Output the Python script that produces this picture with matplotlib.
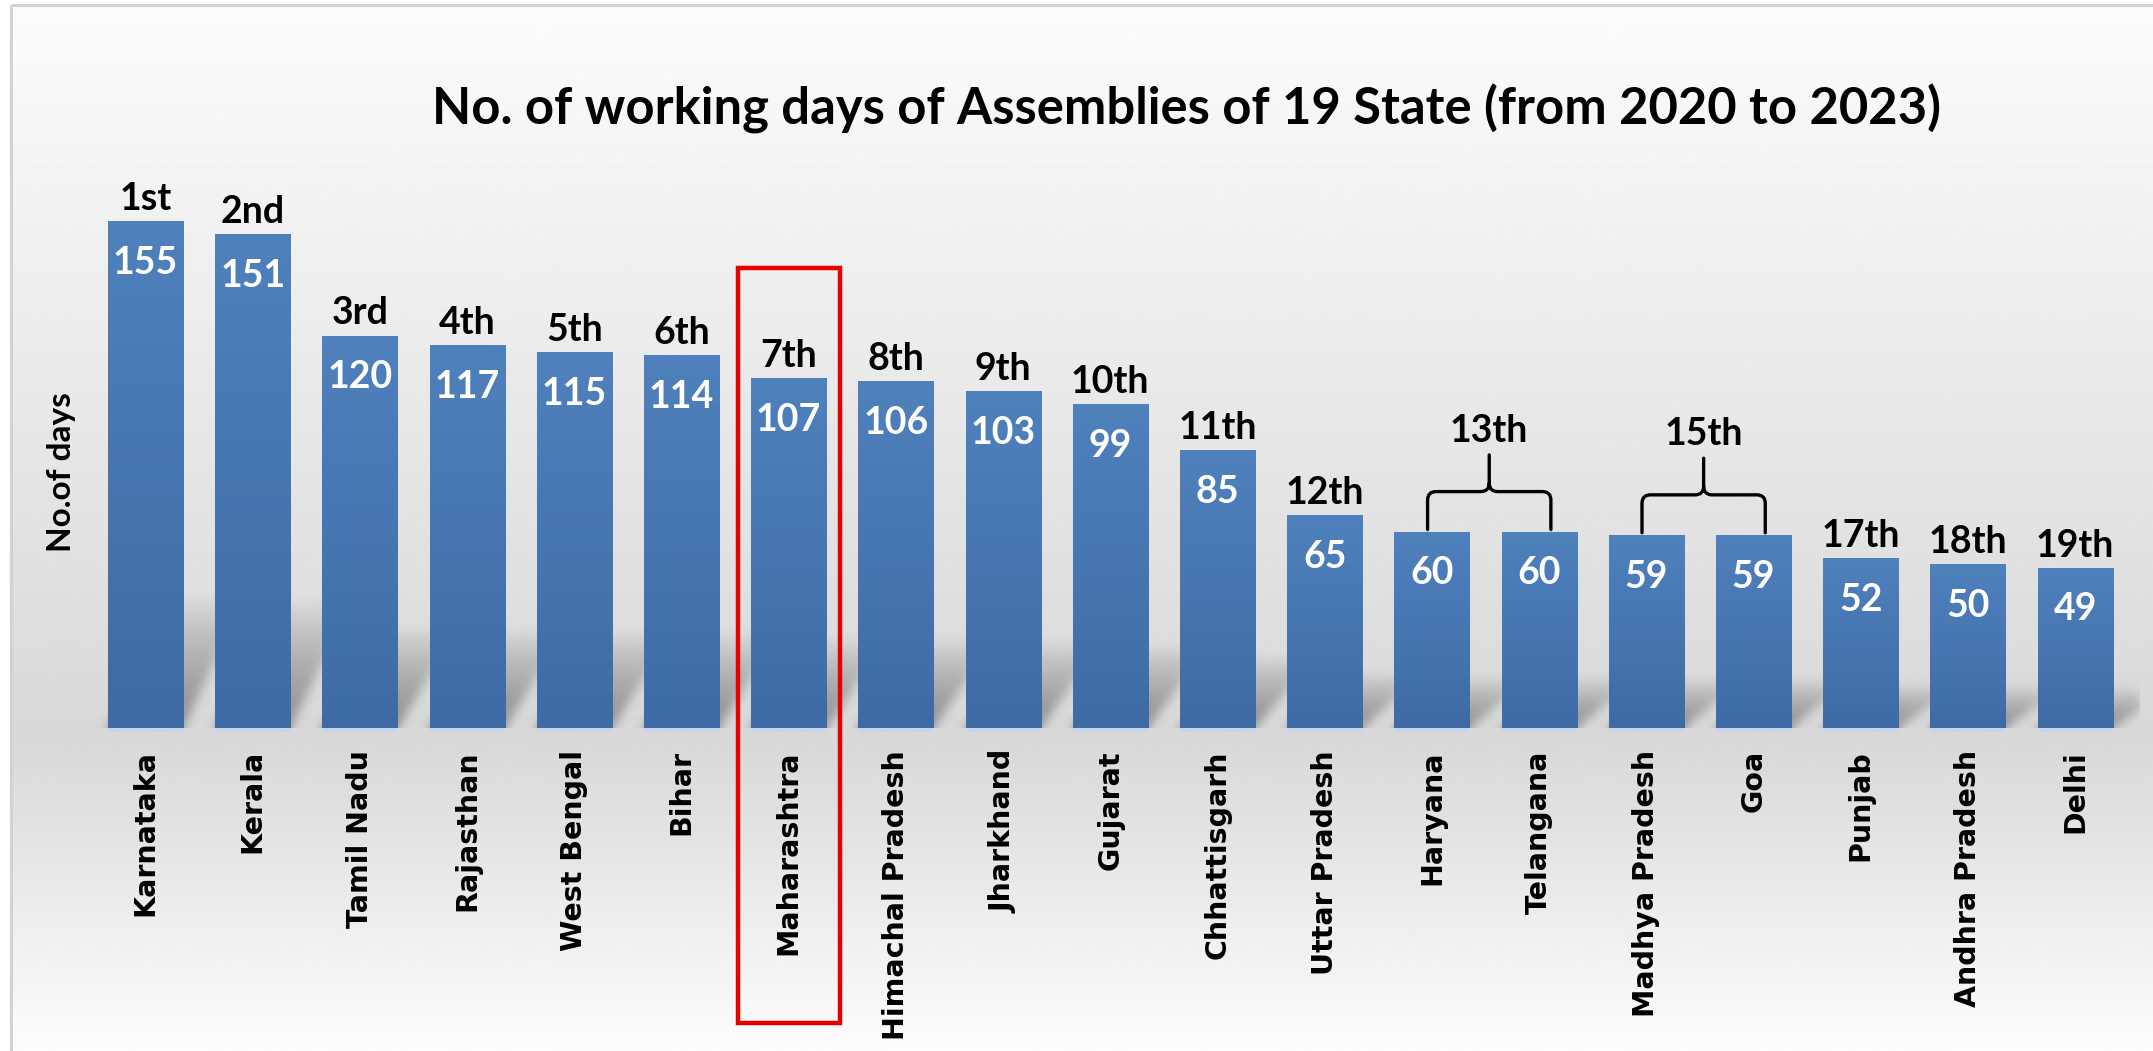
import numpy as np
import matplotlib
matplotlib.use("Agg")
import matplotlib.pyplot as plt
from matplotlib.patches import Rectangle, PathPatch
from matplotlib.path import Path
from matplotlib.colors import LinearSegmentedColormap

# ---------------- data ----------------
states = ["Karnataka", "Kerala", "Tamil Nadu", "Rajasthan", "West Bengal", "Bihar",
          "Maharashtra", "Himachal Pradesh", "Jharkhand", "Gujarat", "Chhattisgarh",
          "Uttar Pradesh", "Haryana", "Telangana", "Madhya Pradesh", "Goa", "Punjab",
          "Andhra Pradesh", "Delhi"]
days = [155, 151, 120, 117, 115, 114, 107, 106, 103, 99, 85, 65, 60, 60, 59, 59, 52, 50, 49]
ranks = ["1st", "2nd", "3rd", "4th", "5th", "6th", "7th", "8th", "9th", "10th", "11th",
         "12th", "", "", "", "", "17th", "18th", "19th"]
tied_groups = [("13th", 12, 13), ("15th", 14, 15)]
highlight = "Maharashtra"
title = "No. of working days of Assemblies of 19 State (from 2020 to 2023)"
ylabel = "No.of days"

# ---------------- figure ----------------
W, H = 2153, 1051
fig = plt.figure(figsize=(W / 100, H / 100), dpi=100)
fig.patch.set_facecolor("white")

# background gradient + frame
bg = fig.add_axes([0, 0, 1, 1], zorder=-10)
bg.set_xlim(0, W)
bg.set_ylim(H, 0)
bg.axis("off")
ys = np.linspace(5, H, 500)
vals = np.interp(ys, [0, 740, H], [252, 216, 253]) / 255.0
grad = np.repeat(vals[:, None], 2, axis=1)
bg.imshow(grad, cmap="gray", vmin=0, vmax=1, extent=[11, W, H, 5], aspect="auto",
          interpolation="bilinear")
bg.add_patch(Rectangle((11, 5), W, H, fill=False, ec="#d2d2d2", lw=2.2))

# main axes
ax = fig.add_axes([0.03771, 0.30733, 0.95597, 0.56004])
ax.set_facecolor("none")
x = np.arange(len(states))
bw = 0.70
bars = ax.bar(x, days, width=bw, color="#4a7ebb", zorder=3)

# gradient fill inside bars
bar_cmap = LinearSegmentedColormap.from_list("bar", ["#3e6ba5", "#4f81bd"])
gv = np.linspace(0, 1, 256)[:, None]
for b in bars:
    im = ax.imshow(gv, cmap=bar_cmap, origin="lower", aspect="auto",
                   extent=[b.get_x(), b.get_x() + b.get_width(), 0, b.get_height()],
                   zorder=3.1, interpolation="bilinear")
    im.set_clip_path(b)

# light reflection under bars
ax.bar(x, [-1.3] * len(x), width=bw, color="#c9d6e8", zorder=3, clip_on=False)

# soft perspective shadows cast up and to the right behind each bar
sx = np.linspace(-0.6, 18.6, 1920)
sy = np.linspace(-10, 70, 320)
X, Y = np.meshgrid(sx, sy)
S = np.zeros_like(X)
for i, v in enumerate(days):
    hs = 0.26 * v
    t = np.clip(Y, 0, None) / hs
    shift = 0.58 * t
    left = i - bw / 2 + shift
    right = i + bw / 2 + shift
    inside = (t <= 1) & (X >= left) & (X <= right)
    strength = np.where(inside, np.clip(1 - t, 0, 1) ** 0.8, 0.0)
    S = np.maximum(S, strength)


def gk(sig):
    r = int(3 * sig)
    k = np.exp(-0.5 * (np.arange(-r, r + 1) / sig) ** 2)
    return k / k.sum()


kx, ky = gk(5), gk(6)
S = np.apply_along_axis(lambda r: np.convolve(r, kx, mode="same"), 1, S)
S = np.apply_along_axis(lambda c: np.convolve(c, ky, mode="same"), 0, S)
rgba = np.zeros(S.shape + (4,))
rgba[..., :3] = 0.42
rgba[..., 3] = np.clip(S * 0.7, 0, 1)
ax.imshow(rgba, origin="lower", extent=[-0.6, 18.6, -10, 70], aspect="auto",
          zorder=2, interpolation="bilinear")

ax.set_xlim(-0.6, 18.6)
ax.set_ylim(0, 180)

# value labels & rank labels
for i, (v, r) in enumerate(zip(days, ranks)):
    ax.annotate(str(v), (i, v), xytext=(0, -30), textcoords="offset points",
                ha="center", va="center", color="white", fontsize=27,
                fontweight="bold", family="Lato", zorder=6)
    if r:
        ax.annotate(r, (i, v), xytext=(0, 8), textcoords="offset points",
                    ha="center", va="baseline", color="black", fontsize=27,
                    fontweight="bold", family="Lato", zorder=6)

# curly brackets for tied ranks
for lab, i, j in tied_groups:
    v = max(days[i], days[j])
    x0, x1 = i - 0.04, j + 0.11
    xm = (x0 + x1) / 2
    yb, yh, yc = v + 0.7, v + 12.3, v + 23.5
    rx, ry = 0.08, 2.6
    verts = [(x0, yb), (x0, yh - ry), (x0, yh), (x0 + rx, yh), (xm - rx, yh),
             (xm, yh), (xm, yh + ry), (xm, yc),
             (x1, yb), (x1, yh - ry), (x1, yh), (x1 - rx, yh), (xm + rx, yh),
             (xm, yh), (xm, yh + ry)]
    codes = [Path.MOVETO, Path.LINETO, Path.CURVE3, Path.CURVE3, Path.LINETO,
             Path.CURVE3, Path.CURVE3, Path.LINETO,
             Path.MOVETO, Path.LINETO, Path.CURVE3, Path.CURVE3, Path.LINETO,
             Path.CURVE3, Path.CURVE3]
    ax.add_patch(PathPatch(Path(verts, codes), fill=False, ec="black", lw=2.4,
                           zorder=6, capstyle="round", joinstyle="round"))
    ax.text(xm, v + 27.5, lab, ha="center", va="baseline", fontsize=27,
            fontweight="bold", family="Lato", zorder=6)

# highlight box around Maharashtra
hi = states.index(highlight)
ax.add_patch(Rectangle((hi - 0.476, -90.2), 0.952, 140.7 + 90.2, fill=False,
                       ec="#e60000", lw=3.2, zorder=7, clip_on=False))

# axes styling
ax.set_xticks(x)
ax.set_xticklabels(states, rotation=90, family="DejaVu Sans", fontweight="bold",
                   fontsize=20.5, color="black")
ax.tick_params(axis="x", length=0, pad=16)
ax.set_yticks([])
for sp in ax.spines.values():
    sp.set_visible(False)

fig.text(0.5509, 1 - 125 / H, title, ha="center", va="baseline", fontsize=36.5,
         fontweight="bold", family="Lato")
fig.text(61 / W, 1 - 472 / H, ylabel, rotation=90, ha="center", va="center",
         fontsize=24, fontweight="bold", family="Lato")

fig.savefig("out.png", dpi=100)
